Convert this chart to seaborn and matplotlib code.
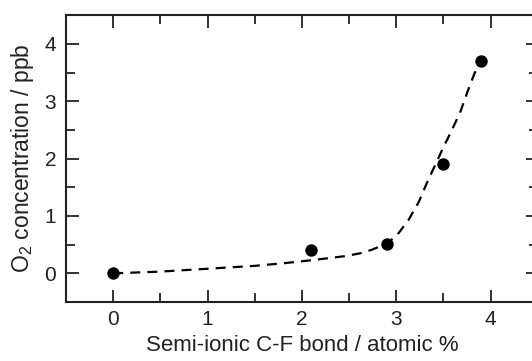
import matplotlib
matplotlib.use("Agg")
import matplotlib.pyplot as plt
import seaborn as sns
import pandas as pd
from matplotlib.ticker import MultipleLocator

# measured data points
cf_bond = [0.0, 2.1, 2.9, 3.5, 3.9]
o2_conc = [0.0, 0.41, 0.51, 1.90, 3.70]

# dashed guide curve
curve_x = [0.0, 0.5, 1.0, 1.5, 1.83, 2.11, 2.46, 2.62, 2.74, 2.9, 3.01, 3.13, 3.24,
           3.32, 3.41, 3.50, 3.59, 3.68, 3.76, 3.83, 3.90]
curve_y = [0.0, 0.03, 0.08, 0.13, 0.18, 0.23, 0.30, 0.35, 0.41, 0.52, 0.67, 0.93, 1.25,
           1.56, 1.88, 2.20, 2.50, 2.82, 3.19, 3.49, 3.70]

x_ticks = [0, 1, 2, 3, 4]
y_ticks = [0, 1, 2, 3, 4]

sns.set_style("ticks")
plt.rcParams['font.family'] = ['Liberation Sans', 'DejaVu Sans']
plt.rcParams['mathtext.fontset'] = 'custom'
plt.rcParams['mathtext.rm'] = 'Liberation Sans'
plt.rcParams['mathtext.it'] = 'Liberation Sans:italic'

fig = plt.figure(figsize=(5.32, 3.61), dpi=100)
ax = fig.add_axes([0.124, 0.1634, 1.011 - 0.124, 0.958 - 0.1634])

pts = pd.DataFrame({"x": cf_bond, "y": o2_conc})
crv = pd.DataFrame({"x": curve_x, "y": curve_y})

sns.lineplot(data=crv, x="x", y="y", ax=ax, color="black", lw=1.6,
             dashes=False, sort=False, zorder=2)
ax.lines[-1].set_dashes((4.5, 3.2))
sns.scatterplot(data=pts, x="x", y="y", ax=ax, color="black", s=80,
                edgecolor="black", linewidth=0, zorder=3)

ax.set_xlim(-0.5, 4.5)
ax.set_ylim(-0.5, 4.5)
ax.set_xticks(x_ticks)
ax.set_yticks(y_ticks)
ax.xaxis.set_minor_locator(MultipleLocator(0.5))
ax.yaxis.set_minor_locator(MultipleLocator(0.5))
ax.tick_params(which="both", direction="in", top=True, right=True,
               width=1.3, colors="#222222", labelsize=15)
ax.tick_params(axis="x", which="major", pad=6)
ax.tick_params(axis="y", which="major", pad=7)
ax.tick_params(which="major", length=9)
ax.tick_params(which="minor", length=6.5)
for s in ax.spines.values():
    s.set_linewidth(1.5)
    s.set_color("#222222")

ax.set_xlabel("Semi-ionic C-F bond / atomic %", fontsize=16, color="#222222", labelpad=4)
ax.set_ylabel(r"O$_2$ concentration / ppb", fontsize=16.5, color="#222222", labelpad=6)

fig.savefig("out.png", dpi=100)
